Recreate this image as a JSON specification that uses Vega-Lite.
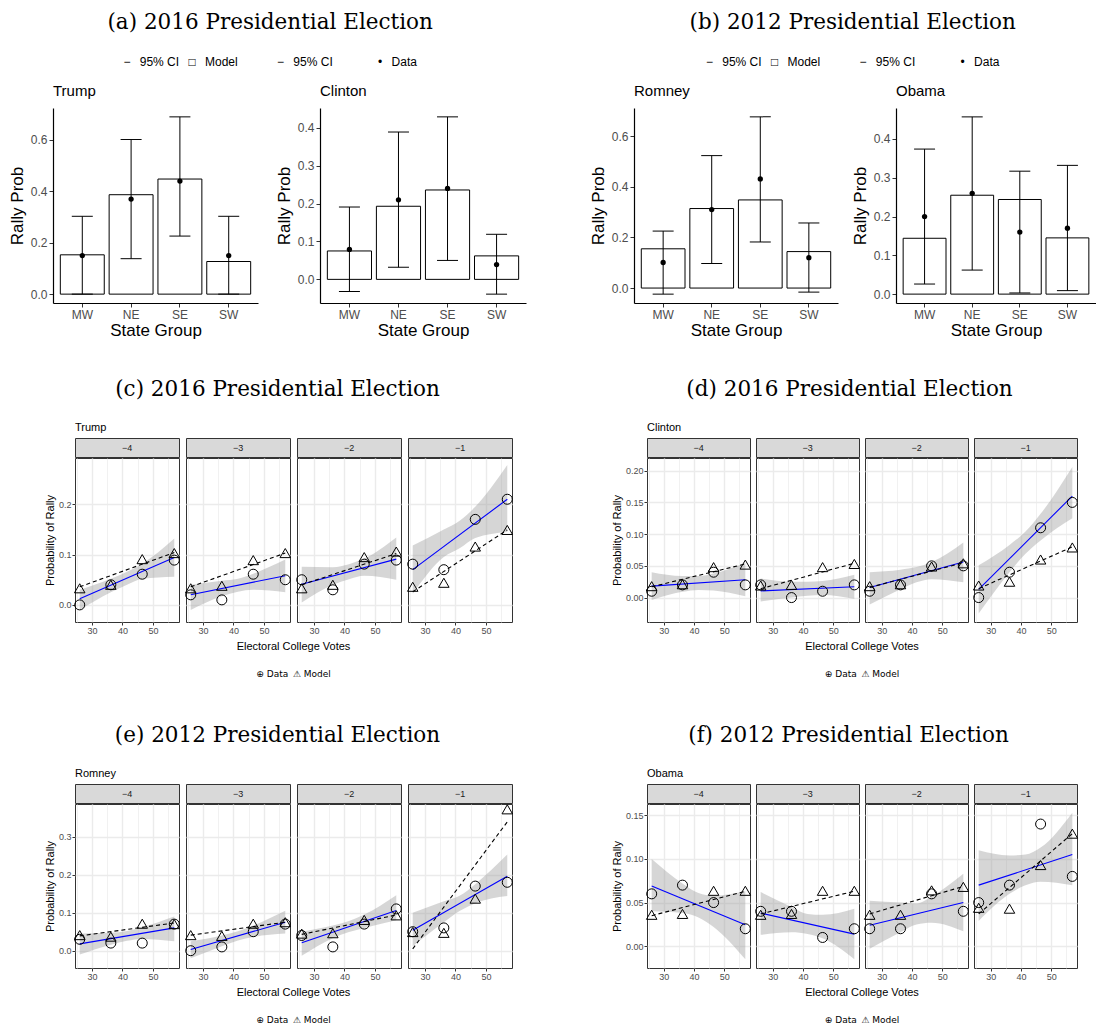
{
"$schema":"https://vega.github.io/schema/vega-lite/v6.json",
"background":"white",
"padding":{"left":8,"top":11,"right":0,"bottom":0},
"config":{
 "font":"Liberation Sans",
 "view":{"stroke":null},
 "axis":{"labelFont":"Liberation Sans","titleFont":"Liberation Sans","labelColor":"#4D4D4D","titleColor":"#000000","titleFontWeight":"normal","tickColor":"#333333","domainColor":"#000000","grid":false},
 "title":{"font":"Liberation Sans","fontWeight":"normal","color":"#000000","subtitleColor":"#000000","subtitleFont":"Liberation Sans"}
},
"datasets":{
 "bars":[
  {"c":"Trump","grp":"MW","model":0.153,"lo":0.0,"hi":0.303,"data":0.15},
  {"c":"Trump","grp":"NE","model":0.387,"lo":0.138,"hi":0.602,"data":0.37},
  {"c":"Trump","grp":"SE","model":0.448,"lo":0.226,"hi":0.69,"data":0.44},
  {"c":"Trump","grp":"SW","model":0.127,"lo":0.0,"hi":0.303,"data":0.15},
  {"c":"Clinton","grp":"MW","model":0.075,"lo":-0.032,"hi":0.191,"data":0.079},
  {"c":"Clinton","grp":"NE","model":0.193,"lo":0.032,"hi":0.389,"data":0.21},
  {"c":"Clinton","grp":"SE","model":0.236,"lo":0.05,"hi":0.429,"data":0.24},
  {"c":"Clinton","grp":"SW","model":0.062,"lo":-0.039,"hi":0.119,"data":0.039},
  {"c":"Romney","grp":"MW","model":0.155,"lo":-0.024,"hi":0.225,"data":0.101},
  {"c":"Romney","grp":"NE","model":0.314,"lo":0.097,"hi":0.523,"data":0.31},
  {"c":"Romney","grp":"SE","model":0.348,"lo":0.182,"hi":0.676,"data":0.431},
  {"c":"Romney","grp":"SW","model":0.144,"lo":-0.016,"hi":0.257,"data":0.12},
  {"c":"Obama","grp":"MW","model":0.144,"lo":0.026,"hi":0.374,"data":0.2},
  {"c":"Obama","grp":"NE","model":0.255,"lo":0.062,"hi":0.457,"data":0.26},
  {"c":"Obama","grp":"SE","model":0.244,"lo":0.003,"hi":0.317,"data":0.16},
  {"c":"Obama","grp":"SW","model":0.145,"lo":0.009,"hi":0.332,"data":0.17}
 ],
 "pts":[
  {"c":"Trump","lag":-4,"ev":26,"d":0.0,"m":0.033},{"c":"Trump","lag":-4,"ev":36.2,"d":0.04,"m":0.04},{"c":"Trump","lag":-4,"ev":46.5,"d":0.061,"m":0.091},{"c":"Trump","lag":-4,"ev":57,"d":0.089,"m":0.103},
  {"c":"Trump","lag":-3,"ev":26,"d":0.02,"m":0.033},{"c":"Trump","lag":-3,"ev":36.2,"d":0.01,"m":0.038},{"c":"Trump","lag":-3,"ev":46.5,"d":0.061,"m":0.089},{"c":"Trump","lag":-3,"ev":57,"d":0.05,"m":0.103},
  {"c":"Trump","lag":-2,"ev":26,"d":0.05,"m":0.033},{"c":"Trump","lag":-2,"ev":36.2,"d":0.03,"m":0.04},{"c":"Trump","lag":-2,"ev":46.5,"d":0.081,"m":0.095},{"c":"Trump","lag":-2,"ev":57,"d":0.089,"m":0.106},
  {"c":"Trump","lag":-1,"ev":26,"d":0.081,"m":0.036},{"c":"Trump","lag":-1,"ev":36.2,"d":0.07,"m":0.044},{"c":"Trump","lag":-1,"ev":46.5,"d":0.17,"m":0.116},{"c":"Trump","lag":-1,"ev":57,"d":0.21,"m":0.149},
  {"c":"Clinton","lag":-4,"ev":26,"d":0.01,"m":0.018},{"c":"Clinton","lag":-4,"ev":36.2,"d":0.02,"m":0.021},{"c":"Clinton","lag":-4,"ev":46.5,"d":0.04,"m":0.048},{"c":"Clinton","lag":-4,"ev":57,"d":0.02,"m":0.052},
  {"c":"Clinton","lag":-3,"ev":26,"d":0.02,"m":0.019},{"c":"Clinton","lag":-3,"ev":36.2,"d":0.0,"m":0.02},{"c":"Clinton","lag":-3,"ev":46.5,"d":0.01,"m":0.048},{"c":"Clinton","lag":-3,"ev":57,"d":0.02,"m":0.053},
  {"c":"Clinton","lag":-2,"ev":26,"d":0.01,"m":0.018},{"c":"Clinton","lag":-2,"ev":36.2,"d":0.02,"m":0.021},{"c":"Clinton","lag":-2,"ev":46.5,"d":0.05,"m":0.049},{"c":"Clinton","lag":-2,"ev":57,"d":0.05,"m":0.054},
  {"c":"Clinton","lag":-1,"ev":26,"d":0.0,"m":0.019},{"c":"Clinton","lag":-1,"ev":36.2,"d":0.04,"m":0.025},{"c":"Clinton","lag":-1,"ev":46.5,"d":0.11,"m":0.06},{"c":"Clinton","lag":-1,"ev":57,"d":0.15,"m":0.079},
  {"c":"Romney","lag":-4,"ev":26,"d":0.03,"m":0.041},{"c":"Romney","lag":-4,"ev":36.2,"d":0.02,"m":0.037},{"c":"Romney","lag":-4,"ev":46.5,"d":0.02,"m":0.071},{"c":"Romney","lag":-4,"ev":57,"d":0.07,"m":0.07},
  {"c":"Romney","lag":-3,"ev":26,"d":0.0,"m":0.041},{"c":"Romney","lag":-3,"ev":36.2,"d":0.01,"m":0.039},{"c":"Romney","lag":-3,"ev":46.5,"d":0.05,"m":0.071},{"c":"Romney","lag":-3,"ev":57,"d":0.07,"m":0.075},
  {"c":"Romney","lag":-2,"ev":26,"d":0.04,"m":0.045},{"c":"Romney","lag":-2,"ev":36.2,"d":0.01,"m":0.046},{"c":"Romney","lag":-2,"ev":46.5,"d":0.07,"m":0.081},{"c":"Romney","lag":-2,"ev":57,"d":0.11,"m":0.093},
  {"c":"Romney","lag":-1,"ev":26,"d":0.05,"m":0.049},{"c":"Romney","lag":-1,"ev":36.2,"d":0.06,"m":0.047},{"c":"Romney","lag":-1,"ev":46.5,"d":0.17,"m":0.137},{"c":"Romney","lag":-1,"ev":57,"d":0.18,"m":0.372},
  {"c":"Obama","lag":-4,"ev":26,"d":0.06,"m":0.036},{"c":"Obama","lag":-4,"ev":36.2,"d":0.07,"m":0.037},{"c":"Obama","lag":-4,"ev":46.5,"d":0.05,"m":0.0635},{"c":"Obama","lag":-4,"ev":57,"d":0.02,"m":0.0635},
  {"c":"Obama","lag":-3,"ev":26,"d":0.04,"m":0.036},{"c":"Obama","lag":-3,"ev":36.2,"d":0.04,"m":0.037},{"c":"Obama","lag":-3,"ev":46.5,"d":0.01,"m":0.0635},{"c":"Obama","lag":-3,"ev":57,"d":0.02,"m":0.0635},
  {"c":"Obama","lag":-2,"ev":26,"d":0.02,"m":0.036},{"c":"Obama","lag":-2,"ev":36.2,"d":0.02,"m":0.036},{"c":"Obama","lag":-2,"ev":46.5,"d":0.06,"m":0.064},{"c":"Obama","lag":-2,"ev":57,"d":0.04,"m":0.068},
  {"c":"Obama","lag":-1,"ev":26,"d":0.05,"m":0.044},{"c":"Obama","lag":-1,"ev":36.2,"d":0.07,"m":0.043},{"c":"Obama","lag":-1,"ev":46.5,"d":0.14,"m":0.093},{"c":"Obama","lag":-1,"ev":57,"d":0.08,"m":0.129}
 ],
 "fit":[
  {"c":"Trump","lag":-4,"ev":26,"d":0.012,"m":0.036},{"c":"Trump","lag":-4,"ev":57,"d":0.094,"m":0.104},
  {"c":"Trump","lag":-3,"ev":26,"d":0.02,"m":0.036},{"c":"Trump","lag":-3,"ev":57,"d":0.058,"m":0.103},
  {"c":"Trump","lag":-2,"ev":26,"d":0.041,"m":0.04},{"c":"Trump","lag":-2,"ev":57,"d":0.091,"m":0.102},
  {"c":"Trump","lag":-1,"ev":26,"d":0.07,"m":0.026},{"c":"Trump","lag":-1,"ev":57,"d":0.21,"m":0.149},
  {"c":"Clinton","lag":-4,"ev":26,"d":0.018,"m":0.017},{"c":"Clinton","lag":-4,"ev":57,"d":0.028,"m":0.053},
  {"c":"Clinton","lag":-3,"ev":26,"d":0.0105,"m":0.014},{"c":"Clinton","lag":-3,"ev":57,"d":0.017,"m":0.054},
  {"c":"Clinton","lag":-2,"ev":26,"d":0.016,"m":0.016},{"c":"Clinton","lag":-2,"ev":57,"d":0.056,"m":0.055},
  {"c":"Clinton","lag":-1,"ev":26,"d":0.013,"m":0.014},{"c":"Clinton","lag":-1,"ev":57,"d":0.16,"m":0.08},
  {"c":"Romney","lag":-4,"ev":26,"d":0.018,"m":0.039},{"c":"Romney","lag":-4,"ev":57,"d":0.06,"m":0.073},
  {"c":"Romney","lag":-3,"ev":26,"d":0.003,"m":0.041},{"c":"Romney","lag":-3,"ev":57,"d":0.075,"m":0.075},
  {"c":"Romney","lag":-2,"ev":26,"d":0.021,"m":0.043},{"c":"Romney","lag":-2,"ev":57,"d":0.106,"m":0.094},
  {"c":"Romney","lag":-1,"ev":26,"d":0.054,"m":0.005},{"c":"Romney","lag":-1,"ev":57,"d":0.196,"m":0.339},
  {"c":"Obama","lag":-4,"ev":26,"d":0.069,"m":0.035},{"c":"Obama","lag":-4,"ev":57,"d":0.0245,"m":0.063},
  {"c":"Obama","lag":-3,"ev":26,"d":0.038,"m":0.037},{"c":"Obama","lag":-3,"ev":57,"d":0.0138,"m":0.063},
  {"c":"Obama","lag":-2,"ev":26,"d":0.024,"m":0.037},{"c":"Obama","lag":-2,"ev":57,"d":0.05,"m":0.0685},
  {"c":"Obama","lag":-1,"ev":26,"d":0.07,"m":0.037},{"c":"Obama","lag":-1,"ev":57,"d":0.105,"m":0.129}
 ],
 "band":[
  {"c":"Trump","lag":-4,"ev":26,"lo":-0.01,"hi":0.03},{"c":"Trump","lag":-4,"ev":36.2,"lo":0.025,"hi":0.052},{"c":"Trump","lag":-4,"ev":41.5,"lo":0.04,"hi":0.066},{"c":"Trump","lag":-4,"ev":46.5,"lo":0.052,"hi":0.082},{"c":"Trump","lag":-4,"ev":57,"lo":0.056,"hi":0.132},
  {"c":"Trump","lag":-3,"ev":26,"lo":-0.01,"hi":0.04},{"c":"Trump","lag":-3,"ev":36.2,"lo":0.017,"hi":0.048},{"c":"Trump","lag":-3,"ev":41.5,"lo":0.026,"hi":0.052},{"c":"Trump","lag":-3,"ev":46.5,"lo":0.03,"hi":0.062},{"c":"Trump","lag":-3,"ev":57,"lo":0.025,"hi":0.09},
  {"c":"Trump","lag":-2,"ev":26,"lo":0.005,"hi":0.076},{"c":"Trump","lag":-2,"ev":36.2,"lo":0.04,"hi":0.075},{"c":"Trump","lag":-2,"ev":41.5,"lo":0.051,"hi":0.081},{"c":"Trump","lag":-2,"ev":46.5,"lo":0.058,"hi":0.092},{"c":"Trump","lag":-2,"ev":57,"lo":0.05,"hi":0.134},
  {"c":"Trump","lag":-1,"ev":26,"lo":0.022,"hi":0.118},{"c":"Trump","lag":-1,"ev":36.2,"lo":0.095,"hi":0.15},{"c":"Trump","lag":-1,"ev":41.5,"lo":0.113,"hi":0.168},{"c":"Trump","lag":-1,"ev":46.5,"lo":0.133,"hi":0.195},{"c":"Trump","lag":-1,"ev":57,"lo":0.145,"hi":0.278},
  {"c":"Clinton","lag":-4,"ev":26,"lo":-0.004,"hi":0.04},{"c":"Clinton","lag":-4,"ev":36.2,"lo":0.009,"hi":0.034},{"c":"Clinton","lag":-4,"ev":41.5,"lo":0.012,"hi":0.034},{"c":"Clinton","lag":-4,"ev":46.5,"lo":0.011,"hi":0.038},{"c":"Clinton","lag":-4,"ev":57,"lo":0.002,"hi":0.055},
  {"c":"Clinton","lag":-3,"ev":26,"lo":-0.006,"hi":0.03},{"c":"Clinton","lag":-3,"ev":36.2,"lo":0.0,"hi":0.025},{"c":"Clinton","lag":-3,"ev":41.5,"lo":0.003,"hi":0.025},{"c":"Clinton","lag":-3,"ev":46.5,"lo":0.004,"hi":0.026},{"c":"Clinton","lag":-3,"ev":57,"lo":-0.002,"hi":0.036},
  {"c":"Clinton","lag":-2,"ev":26,"lo":-0.011,"hi":0.04},{"c":"Clinton","lag":-2,"ev":36.2,"lo":0.013,"hi":0.044},{"c":"Clinton","lag":-2,"ev":41.5,"lo":0.024,"hi":0.048},{"c":"Clinton","lag":-2,"ev":46.5,"lo":0.029,"hi":0.056},{"c":"Clinton","lag":-2,"ev":57,"lo":0.024,"hi":0.087},
  {"c":"Clinton","lag":-1,"ev":26,"lo":-0.025,"hi":0.051},{"c":"Clinton","lag":-1,"ev":36.2,"lo":0.04,"hi":0.083},{"c":"Clinton","lag":-1,"ev":41.5,"lo":0.069,"hi":0.104},{"c":"Clinton","lag":-1,"ev":46.5,"lo":0.09,"hi":0.132},{"c":"Clinton","lag":-1,"ev":57,"lo":0.125,"hi":0.206},
  {"c":"Romney","lag":-4,"ev":26,"lo":-0.01,"hi":0.045},{"c":"Romney","lag":-4,"ev":36.2,"lo":0.016,"hi":0.047},{"c":"Romney","lag":-4,"ev":41.5,"lo":0.026,"hi":0.052},{"c":"Romney","lag":-4,"ev":46.5,"lo":0.031,"hi":0.062},{"c":"Romney","lag":-4,"ev":57,"lo":0.025,"hi":0.09},
  {"c":"Romney","lag":-3,"ev":26,"lo":-0.02,"hi":0.025},{"c":"Romney","lag":-3,"ev":36.2,"lo":0.012,"hi":0.04},{"c":"Romney","lag":-3,"ev":41.5,"lo":0.027,"hi":0.051},{"c":"Romney","lag":-3,"ev":46.5,"lo":0.036,"hi":0.066},{"c":"Romney","lag":-3,"ev":57,"lo":0.045,"hi":0.105},
  {"c":"Romney","lag":-2,"ev":26,"lo":-0.013,"hi":0.05},{"c":"Romney","lag":-2,"ev":36.2,"lo":0.033,"hi":0.066},{"c":"Romney","lag":-2,"ev":41.5,"lo":0.049,"hi":0.078},{"c":"Romney","lag":-2,"ev":46.5,"lo":0.06,"hi":0.095},{"c":"Romney","lag":-2,"ev":57,"lo":0.08,"hi":0.146},
  {"c":"Romney","lag":-1,"ev":26,"lo":0.012,"hi":0.1},{"c":"Romney","lag":-1,"ev":36.2,"lo":0.075,"hi":0.13},{"c":"Romney","lag":-1,"ev":41.5,"lo":0.105,"hi":0.145},{"c":"Romney","lag":-1,"ev":46.5,"lo":0.125,"hi":0.175},{"c":"Romney","lag":-1,"ev":57,"lo":0.144,"hi":0.253},
  {"c":"Obama","lag":-4,"ev":26,"lo":0.04,"hi":0.1},{"c":"Obama","lag":-4,"ev":36.2,"lo":0.038,"hi":0.072},{"c":"Obama","lag":-4,"ev":41.5,"lo":0.033,"hi":0.061},{"c":"Obama","lag":-4,"ev":46.5,"lo":0.022,"hi":0.058},{"c":"Obama","lag":-4,"ev":57,"lo":-0.015,"hi":0.063},
  {"c":"Obama","lag":-3,"ev":26,"lo":0.013,"hi":0.062},{"c":"Obama","lag":-3,"ev":36.2,"lo":0.016,"hi":0.045},{"c":"Obama","lag":-3,"ev":41.5,"lo":0.014,"hi":0.037},{"c":"Obama","lag":-3,"ev":46.5,"lo":0.009,"hi":0.036},{"c":"Obama","lag":-3,"ev":57,"lo":-0.015,"hi":0.043},
  {"c":"Obama","lag":-2,"ev":26,"lo":-0.003,"hi":0.052},{"c":"Obama","lag":-2,"ev":36.2,"lo":0.016,"hi":0.05},{"c":"Obama","lag":-2,"ev":41.5,"lo":0.025,"hi":0.049},{"c":"Obama","lag":-2,"ev":46.5,"lo":0.027,"hi":0.057},{"c":"Obama","lag":-2,"ev":57,"lo":0.017,"hi":0.083},
  {"c":"Obama","lag":-1,"ev":26,"lo":0.029,"hi":0.11},{"c":"Obama","lag":-1,"ev":36.2,"lo":0.06,"hi":0.104},{"c":"Obama","lag":-1,"ev":41.5,"lo":0.07,"hi":0.105},{"c":"Obama","lag":-1,"ev":46.5,"lo":0.074,"hi":0.113},{"c":"Obama","lag":-1,"ev":57,"lo":0.07,"hi":0.153}
 ]
},
"vconcat":[
 {"hconcat":[
  {"title":{"text":"(a) 2016 Presidential Election","subtitle":"−\u2002 95% CI\u2002 □\u2002 Model\u2003\u2003\u2003 −\u2002 95% CI\u2003\u2003\u2003\u2002 •\u2002 Data","font":"DejaVu Serif","fontSize":21.5,"subtitleFontSize":12,"subtitlePadding":24,"anchor":"middle","offset":16,"dx":3},
   "hconcat":[
    {"title":{"text":"Trump","anchor":"start","frame":"group","fontSize":15,"offset":9},"width":205,"height":195,"data":{"name":"bars"},"transform":[{"filter":"datum.c=='Trump'"}],
     "encoding":{"x":{"field":"grp","type":"nominal","scale":{"paddingInner":0.1,"paddingOuter":0.15},"axis":{"title":"State Group","labelAngle":0,"labelFontSize":12,"titleFontSize":17,"labelPadding":2,"titlePadding":2,"tickSize":4,"domainWidth":1.2}}},
     "layer":[
      {"mark":{"type":"bar","fill":"white","stroke":"black","strokeWidth":1},"encoding":{"y":{"field":"model","type":"quantitative","scale":{"domain":[-0.0345,0.7245],"nice":false,"zero":false},"axis":{"title":"Rally Prob","values":[0,0.2,0.4,0.6],"format":".1f","labelFontSize":12,"titleFontSize":17,"labelPadding":2,"titlePadding":4,"tickSize":4,"domainWidth":1.2}},"y2":{"datum":0}}},
      {"mark":{"type":"rule","color":"black","strokeWidth":1},"encoding":{"y":{"field":"lo","type":"quantitative"},"y2":{"field":"hi"}}},
      {"mark":{"type":"tick","color":"black","size":21,"thickness":1,"opacity":1},"encoding":{"y":{"field":"lo","type":"quantitative"}}},
      {"mark":{"type":"tick","color":"black","size":21,"thickness":1,"opacity":1},"encoding":{"y":{"field":"hi","type":"quantitative"}}},
      {"mark":{"type":"circle","color":"black","size":28,"opacity":1},"encoding":{"y":{"field":"data","type":"quantitative"}}}
     ]},
    {"title":{"text":"Clinton","anchor":"start","frame":"group","fontSize":15,"offset":9},"width":206,"height":195,"data":{"name":"bars"},"transform":[{"filter":"datum.c=='Clinton'"}],
     "encoding":{"x":{"field":"grp","type":"nominal","scale":{"paddingInner":0.1,"paddingOuter":0.15},"axis":{"title":"State Group","labelAngle":0,"labelFontSize":12,"titleFontSize":17,"labelPadding":2,"titlePadding":2,"tickSize":4,"domainWidth":1.2}}},
     "layer":[
      {"mark":{"type":"bar","fill":"white","stroke":"black","strokeWidth":1},"encoding":{"y":{"field":"model","type":"quantitative","scale":{"domain":[-0.0624,0.4524],"nice":false,"zero":false},"axis":{"title":"Rally Prob","values":[0,0.1,0.2,0.3,0.4],"format":".1f","labelFontSize":12,"titleFontSize":17,"labelPadding":2,"titlePadding":4,"tickSize":4,"domainWidth":1.2}},"y2":{"datum":0}}},
      {"mark":{"type":"rule","color":"black","strokeWidth":1},"encoding":{"y":{"field":"lo","type":"quantitative"},"y2":{"field":"hi"}}},
      {"mark":{"type":"tick","color":"black","size":21,"thickness":1,"opacity":1},"encoding":{"y":{"field":"lo","type":"quantitative"}}},
      {"mark":{"type":"tick","color":"black","size":21,"thickness":1,"opacity":1},"encoding":{"y":{"field":"hi","type":"quantitative"}}},
      {"mark":{"type":"circle","color":"black","size":28,"opacity":1},"encoding":{"y":{"field":"data","type":"quantitative"}}}
     ]}
   ],"spacing":17},
  {"title":{"text":"(b) 2012 Presidential Election","subtitle":"−\u2002 95% CI\u2002 □\u2002 Model\u2003\u2003\u2003 −\u2002 95% CI\u2003\u2003\u2003\u2002 •\u2002 Data","font":"DejaVu Serif","fontSize":21.5,"subtitleFontSize":12,"subtitlePadding":24,"anchor":"middle","offset":16,"dx":10},
   "hconcat":[
    {"title":{"text":"Romney","anchor":"start","frame":"group","fontSize":15,"offset":9},"width":204,"height":195,"data":{"name":"bars"},"transform":[{"filter":"datum.c=='Romney'"}],
     "encoding":{"x":{"field":"grp","type":"nominal","scale":{"paddingInner":0.1,"paddingOuter":0.15},"axis":{"title":"State Group","labelAngle":0,"labelFontSize":12,"titleFontSize":17,"labelPadding":2,"titlePadding":2,"tickSize":4,"domainWidth":1.2}}},
     "layer":[
      {"mark":{"type":"bar","fill":"white","stroke":"black","strokeWidth":1},"encoding":{"y":{"field":"model","type":"quantitative","scale":{"domain":[-0.059,0.711],"nice":false,"zero":false},"axis":{"title":"Rally Prob","values":[0,0.2,0.4,0.6],"format":".1f","labelFontSize":12,"titleFontSize":17,"labelPadding":2,"titlePadding":4,"tickSize":4,"domainWidth":1.2}},"y2":{"datum":0}}},
      {"mark":{"type":"rule","color":"black","strokeWidth":1},"encoding":{"y":{"field":"lo","type":"quantitative"},"y2":{"field":"hi"}}},
      {"mark":{"type":"tick","color":"black","size":21,"thickness":1,"opacity":1},"encoding":{"y":{"field":"lo","type":"quantitative"}}},
      {"mark":{"type":"tick","color":"black","size":21,"thickness":1,"opacity":1},"encoding":{"y":{"field":"hi","type":"quantitative"}}},
      {"mark":{"type":"circle","color":"black","size":28,"opacity":1},"encoding":{"y":{"field":"data","type":"quantitative"}}}
     ]},
    {"title":{"text":"Obama","anchor":"start","frame":"group","fontSize":15,"offset":9},"width":200,"height":195,"data":{"name":"bars"},"transform":[{"filter":"datum.c=='Obama'"}],
     "encoding":{"x":{"field":"grp","type":"nominal","scale":{"paddingInner":0.1,"paddingOuter":0.15},"axis":{"title":"State Group","labelAngle":0,"labelFontSize":12,"titleFontSize":17,"labelPadding":2,"titlePadding":2,"tickSize":4,"domainWidth":1.2}}},
     "layer":[
      {"mark":{"type":"bar","fill":"white","stroke":"black","strokeWidth":1},"encoding":{"y":{"field":"model","type":"quantitative","scale":{"domain":[-0.0229,0.4799],"nice":false,"zero":false},"axis":{"title":"Rally Prob","values":[0,0.1,0.2,0.3,0.4],"format":".1f","labelFontSize":12,"titleFontSize":17,"labelPadding":2,"titlePadding":4,"tickSize":4,"domainWidth":1.2}},"y2":{"datum":0}}},
      {"mark":{"type":"rule","color":"black","strokeWidth":1},"encoding":{"y":{"field":"lo","type":"quantitative"},"y2":{"field":"hi"}}},
      {"mark":{"type":"tick","color":"black","size":21,"thickness":1,"opacity":1},"encoding":{"y":{"field":"lo","type":"quantitative"}}},
      {"mark":{"type":"tick","color":"black","size":21,"thickness":1,"opacity":1},"encoding":{"y":{"field":"hi","type":"quantitative"}}},
      {"mark":{"type":"circle","color":"black","size":28,"opacity":1},"encoding":{"y":{"field":"data","type":"quantitative"}}}
     ]}
   ],"spacing":13}
 ],"spacing":63},
 {"vconcat":[
  {"hconcat":[
   {"width":1,"height":1,"data":{"values":[{}]},"mark":{"type":"text","text":""}},
   {"hconcat":[
    {"title":{"text":"(c) 2016 Presidential Election","font":"DejaVu Serif","fontSize":21.5,"anchor":"middle","offset":21,"dx":-2},
     "vconcat":[
      {"title":{"text":"Trump","anchor":"start","frame":"group","fontSize":11,"offset":5},
       "vconcat":[
        {"hconcat":[
          {"width":104,"height":19,"view":{"fill":"#D9D9D9","stroke":"#333333"},"data":{"values":[{"s":"−4"}]},"mark":{"type":"text","fontSize":9,"color":"#1A1A1A"},"encoding":{"text":{"field":"s"}}},
          {"width":104,"height":19,"view":{"fill":"#D9D9D9","stroke":"#333333"},"data":{"values":[{"s":"−3"}]},"mark":{"type":"text","fontSize":9,"color":"#1A1A1A"},"encoding":{"text":{"field":"s"}}},
          {"width":104,"height":19,"view":{"fill":"#D9D9D9","stroke":"#333333"},"data":{"values":[{"s":"−2"}]},"mark":{"type":"text","fontSize":9,"color":"#1A1A1A"},"encoding":{"text":{"field":"s"}}},
          {"width":104,"height":19,"view":{"fill":"#D9D9D9","stroke":"#333333"},"data":{"values":[{"s":"−1"}]},"mark":{"type":"text","fontSize":9,"color":"#1A1A1A"},"encoding":{"text":{"field":"s"}}}
         ],"spacing":7,"bounds":"flush"},
        {"hconcat":[
          {"width":104,"height":164,"view":{"stroke":"#333333","fill":"white"},
           "encoding":{"x":{"field":"ev","type":"quantitative","scale":{"domain":[24.45,58.55],"nice":false,"zero":false},"axis":{"values":[25,30,35,40,45,50,55],"labelExpr":"datum.value % 10 == 0 ? datum.label : ''","title":null,"domain":false,"labelFontSize":9,"labelPadding":1,"tickSize":3,"tickOpacity":{"condition":{"test":"datum.value % 10 == 0","value":1},"value":0},"grid":true,"gridColor":"#EBEBEB","gridWidth":{"condition":{"test":"datum.value % 10 == 0","value":1.4},"value":0.7}}}},
           "layer":[
            {"data":{"name":"band"},"transform":[{"filter":"datum.c=='Trump'&&datum.lag==-4"}],"mark":{"type":"area","color":"#999999","opacity":0.4,"interpolate":"monotone"},"encoding":{"y":{"field":"lo","type":"quantitative","scale":{"domain":[-0.034,0.292],"nice":false,"zero":false},"axis":{"values":[0,0.05,0.1,0.15,0.2,0.25],"labelExpr":"abs(datum.value*10-round(datum.value*10))<0.001 ? datum.label : ''","labelOverlap":false,"format":".1f","title":"Probability of Rally","titleFontSize":11,"labelFontSize":9,"domain":false,"tickSize":3,"tickOpacity":{"condition":{"test":"abs(datum.value*10-round(datum.value*10))<0.001","value":1},"value":0},"labelPadding":1,"titlePadding":3,"grid":true,"gridColor":"#EBEBEB","gridWidth":{"condition":{"test":"abs(datum.value*10-round(datum.value*10))<0.001","value":1.4},"value":0.7}}},"y2":{"field":"hi"}}},
            {"data":{"name":"fit"},"transform":[{"filter":"datum.c=='Trump'&&datum.lag==-4"}],"mark":{"type":"line","color":"#0000FF","strokeWidth":1.1},"encoding":{"y":{"field":"d","type":"quantitative"}}},
            {"data":{"name":"fit"},"transform":[{"filter":"datum.c=='Trump'&&datum.lag==-4"}],"mark":{"type":"line","color":"black","strokeWidth":1.1,"strokeDash":[4,3]},"encoding":{"y":{"field":"m","type":"quantitative"}}},
            {"data":{"name":"pts"},"transform":[{"filter":"datum.c=='Trump'&&datum.lag==-4"}],"mark":{"type":"point","shape":"circle","filled":false,"color":"black","strokeWidth":1,"size":100,"opacity":1},"encoding":{"y":{"field":"d","type":"quantitative"}}},
            {"data":{"name":"pts"},"transform":[{"filter":"datum.c=='Trump'&&datum.lag==-4"}],"mark":{"type":"point","shape":"triangle-up","filled":false,"color":"black","strokeWidth":1,"size":110,"opacity":1},"encoding":{"y":{"field":"m","type":"quantitative"}}}
           ]},
          {"width":104,"height":164,"view":{"stroke":"#333333","fill":"white"},
           "encoding":{"x":{"field":"ev","type":"quantitative","scale":{"domain":[24.45,58.55],"nice":false,"zero":false},"axis":{"values":[25,30,35,40,45,50,55],"labelExpr":"datum.value % 10 == 0 ? datum.label : ''","title":null,"domain":false,"labelFontSize":9,"labelPadding":1,"tickSize":3,"tickOpacity":{"condition":{"test":"datum.value % 10 == 0","value":1},"value":0},"grid":true,"gridColor":"#EBEBEB","gridWidth":{"condition":{"test":"datum.value % 10 == 0","value":1.4},"value":0.7}}}},
           "layer":[
            {"data":{"name":"band"},"transform":[{"filter":"datum.c=='Trump'&&datum.lag==-3"}],"mark":{"type":"area","color":"#999999","opacity":0.4,"interpolate":"monotone"},"encoding":{"y":{"field":"lo","type":"quantitative","scale":{"domain":[-0.034,0.292],"nice":false,"zero":false},"axis":{"values":[0,0.05,0.1,0.15,0.2,0.25],"labels":false,"ticks":false,"domain":false,"title":null,"grid":true,"gridColor":"#EBEBEB","gridWidth":{"condition":{"test":"abs(datum.value*10-round(datum.value*10))<0.001","value":1.4},"value":0.7}}},"y2":{"field":"hi"}}},
            {"data":{"name":"fit"},"transform":[{"filter":"datum.c=='Trump'&&datum.lag==-3"}],"mark":{"type":"line","color":"#0000FF","strokeWidth":1.1},"encoding":{"y":{"field":"d","type":"quantitative"}}},
            {"data":{"name":"fit"},"transform":[{"filter":"datum.c=='Trump'&&datum.lag==-3"}],"mark":{"type":"line","color":"black","strokeWidth":1.1,"strokeDash":[4,3]},"encoding":{"y":{"field":"m","type":"quantitative"}}},
            {"data":{"name":"pts"},"transform":[{"filter":"datum.c=='Trump'&&datum.lag==-3"}],"mark":{"type":"point","shape":"circle","filled":false,"color":"black","strokeWidth":1,"size":100,"opacity":1},"encoding":{"y":{"field":"d","type":"quantitative"}}},
            {"data":{"name":"pts"},"transform":[{"filter":"datum.c=='Trump'&&datum.lag==-3"}],"mark":{"type":"point","shape":"triangle-up","filled":false,"color":"black","strokeWidth":1,"size":110,"opacity":1},"encoding":{"y":{"field":"m","type":"quantitative"}}}
           ]},
          {"width":104,"height":164,"view":{"stroke":"#333333","fill":"white"},
           "encoding":{"x":{"field":"ev","type":"quantitative","scale":{"domain":[24.45,58.55],"nice":false,"zero":false},"axis":{"values":[25,30,35,40,45,50,55],"labelExpr":"datum.value % 10 == 0 ? datum.label : ''","title":null,"domain":false,"labelFontSize":9,"labelPadding":1,"tickSize":3,"tickOpacity":{"condition":{"test":"datum.value % 10 == 0","value":1},"value":0},"grid":true,"gridColor":"#EBEBEB","gridWidth":{"condition":{"test":"datum.value % 10 == 0","value":1.4},"value":0.7}}}},
           "layer":[
            {"data":{"name":"band"},"transform":[{"filter":"datum.c=='Trump'&&datum.lag==-2"}],"mark":{"type":"area","color":"#999999","opacity":0.4,"interpolate":"monotone"},"encoding":{"y":{"field":"lo","type":"quantitative","scale":{"domain":[-0.034,0.292],"nice":false,"zero":false},"axis":{"values":[0,0.05,0.1,0.15,0.2,0.25],"labels":false,"ticks":false,"domain":false,"title":null,"grid":true,"gridColor":"#EBEBEB","gridWidth":{"condition":{"test":"abs(datum.value*10-round(datum.value*10))<0.001","value":1.4},"value":0.7}}},"y2":{"field":"hi"}}},
            {"data":{"name":"fit"},"transform":[{"filter":"datum.c=='Trump'&&datum.lag==-2"}],"mark":{"type":"line","color":"#0000FF","strokeWidth":1.1},"encoding":{"y":{"field":"d","type":"quantitative"}}},
            {"data":{"name":"fit"},"transform":[{"filter":"datum.c=='Trump'&&datum.lag==-2"}],"mark":{"type":"line","color":"black","strokeWidth":1.1,"strokeDash":[4,3]},"encoding":{"y":{"field":"m","type":"quantitative"}}},
            {"data":{"name":"pts"},"transform":[{"filter":"datum.c=='Trump'&&datum.lag==-2"}],"mark":{"type":"point","shape":"circle","filled":false,"color":"black","strokeWidth":1,"size":100,"opacity":1},"encoding":{"y":{"field":"d","type":"quantitative"}}},
            {"data":{"name":"pts"},"transform":[{"filter":"datum.c=='Trump'&&datum.lag==-2"}],"mark":{"type":"point","shape":"triangle-up","filled":false,"color":"black","strokeWidth":1,"size":110,"opacity":1},"encoding":{"y":{"field":"m","type":"quantitative"}}}
           ]},
          {"width":104,"height":164,"view":{"stroke":"#333333","fill":"white"},
           "encoding":{"x":{"field":"ev","type":"quantitative","scale":{"domain":[24.45,58.55],"nice":false,"zero":false},"axis":{"values":[25,30,35,40,45,50,55],"labelExpr":"datum.value % 10 == 0 ? datum.label : ''","title":null,"domain":false,"labelFontSize":9,"labelPadding":1,"tickSize":3,"tickOpacity":{"condition":{"test":"datum.value % 10 == 0","value":1},"value":0},"grid":true,"gridColor":"#EBEBEB","gridWidth":{"condition":{"test":"datum.value % 10 == 0","value":1.4},"value":0.7}}}},
           "layer":[
            {"data":{"name":"band"},"transform":[{"filter":"datum.c=='Trump'&&datum.lag==-1"}],"mark":{"type":"area","color":"#999999","opacity":0.4,"interpolate":"monotone"},"encoding":{"y":{"field":"lo","type":"quantitative","scale":{"domain":[-0.034,0.292],"nice":false,"zero":false},"axis":{"values":[0,0.05,0.1,0.15,0.2,0.25],"labels":false,"ticks":false,"domain":false,"title":null,"grid":true,"gridColor":"#EBEBEB","gridWidth":{"condition":{"test":"abs(datum.value*10-round(datum.value*10))<0.001","value":1.4},"value":0.7}}},"y2":{"field":"hi"}}},
            {"data":{"name":"fit"},"transform":[{"filter":"datum.c=='Trump'&&datum.lag==-1"}],"mark":{"type":"line","color":"#0000FF","strokeWidth":1.1},"encoding":{"y":{"field":"d","type":"quantitative"}}},
            {"data":{"name":"fit"},"transform":[{"filter":"datum.c=='Trump'&&datum.lag==-1"}],"mark":{"type":"line","color":"black","strokeWidth":1.1,"strokeDash":[4,3]},"encoding":{"y":{"field":"m","type":"quantitative"}}},
            {"data":{"name":"pts"},"transform":[{"filter":"datum.c=='Trump'&&datum.lag==-1"}],"mark":{"type":"point","shape":"circle","filled":false,"color":"black","strokeWidth":1,"size":100,"opacity":1},"encoding":{"y":{"field":"d","type":"quantitative"}}},
            {"data":{"name":"pts"},"transform":[{"filter":"datum.c=='Trump'&&datum.lag==-1"}],"mark":{"type":"point","shape":"triangle-up","filled":false,"color":"black","strokeWidth":1,"size":110,"opacity":1},"encoding":{"y":{"field":"m","type":"quantitative"}}}
           ]}
         ],"spacing":7,"bounds":"flush"}
       ],"spacing":-2},
      {"width":437,"height":44,"title":{"text":"Electoral College Votes","fontSize":11,"anchor":"middle","offset":0},"data":{"values":[{"t":"⊕ Data\u2002⚠ Model"}]},"mark":{"type":"text","fontSize":9,"font":"DejaVu Sans"},"encoding":{"text":{"field":"t"}}}
     ],"spacing":5},
    {"title":{"text":"(d) 2016 Presidential Election","font":"DejaVu Serif","fontSize":21.5,"anchor":"middle","offset":21,"dx":4},
     "vconcat":[
      {"title":{"text":"Clinton","anchor":"start","frame":"group","fontSize":11,"offset":5},
       "vconcat":[
        {"hconcat":[
          {"width":103,"height":19,"view":{"fill":"#D9D9D9","stroke":"#333333"},"data":{"values":[{"s":"−4"}]},"mark":{"type":"text","fontSize":9,"color":"#1A1A1A"},"encoding":{"text":{"field":"s"}}},
          {"width":103,"height":19,"view":{"fill":"#D9D9D9","stroke":"#333333"},"data":{"values":[{"s":"−3"}]},"mark":{"type":"text","fontSize":9,"color":"#1A1A1A"},"encoding":{"text":{"field":"s"}}},
          {"width":103,"height":19,"view":{"fill":"#D9D9D9","stroke":"#333333"},"data":{"values":[{"s":"−2"}]},"mark":{"type":"text","fontSize":9,"color":"#1A1A1A"},"encoding":{"text":{"field":"s"}}},
          {"width":103,"height":19,"view":{"fill":"#D9D9D9","stroke":"#333333"},"data":{"values":[{"s":"−1"}]},"mark":{"type":"text","fontSize":9,"color":"#1A1A1A"},"encoding":{"text":{"field":"s"}}}
         ],"spacing":6,"bounds":"flush"},
        {"hconcat":[
          {"width":103,"height":164,"view":{"stroke":"#333333","fill":"white"},
           "encoding":{"x":{"field":"ev","type":"quantitative","scale":{"domain":[24.45,58.55],"nice":false,"zero":false},"axis":{"values":[25,30,35,40,45,50,55],"labelExpr":"datum.value % 10 == 0 ? datum.label : ''","title":null,"domain":false,"labelFontSize":9,"labelPadding":1,"tickSize":3,"tickOpacity":{"condition":{"test":"datum.value % 10 == 0","value":1},"value":0},"grid":true,"gridColor":"#EBEBEB","gridWidth":{"condition":{"test":"datum.value % 10 == 0","value":1.4},"value":0.7}}}},
           "layer":[
            {"data":{"name":"band"},"transform":[{"filter":"datum.c=='Clinton'&&datum.lag==-4"}],"mark":{"type":"area","color":"#999999","opacity":0.4,"interpolate":"monotone"},"encoding":{"y":{"field":"lo","type":"quantitative","scale":{"domain":[-0.0385,0.22],"nice":false,"zero":false},"axis":{"values":[0,0.025,0.05,0.075,0.1,0.125,0.15,0.175,0.2],"labelExpr":"abs(datum.value*20-round(datum.value*20))<0.001 ? datum.label : ''","labelOverlap":false,"format":".2f","title":"Probability of Rally","titleFontSize":11,"labelFontSize":9,"domain":false,"tickSize":3,"tickOpacity":{"condition":{"test":"abs(datum.value*20-round(datum.value*20))<0.001","value":1},"value":0},"labelPadding":1,"titlePadding":3,"grid":true,"gridColor":"#EBEBEB","gridWidth":{"condition":{"test":"abs(datum.value*20-round(datum.value*20))<0.001","value":1.4},"value":0.7}}},"y2":{"field":"hi"}}},
            {"data":{"name":"fit"},"transform":[{"filter":"datum.c=='Clinton'&&datum.lag==-4"}],"mark":{"type":"line","color":"#0000FF","strokeWidth":1.1},"encoding":{"y":{"field":"d","type":"quantitative"}}},
            {"data":{"name":"fit"},"transform":[{"filter":"datum.c=='Clinton'&&datum.lag==-4"}],"mark":{"type":"line","color":"black","strokeWidth":1.1,"strokeDash":[4,3]},"encoding":{"y":{"field":"m","type":"quantitative"}}},
            {"data":{"name":"pts"},"transform":[{"filter":"datum.c=='Clinton'&&datum.lag==-4"}],"mark":{"type":"point","shape":"circle","filled":false,"color":"black","strokeWidth":1,"size":100,"opacity":1},"encoding":{"y":{"field":"d","type":"quantitative"}}},
            {"data":{"name":"pts"},"transform":[{"filter":"datum.c=='Clinton'&&datum.lag==-4"}],"mark":{"type":"point","shape":"triangle-up","filled":false,"color":"black","strokeWidth":1,"size":110,"opacity":1},"encoding":{"y":{"field":"m","type":"quantitative"}}}
           ]},
          {"width":103,"height":164,"view":{"stroke":"#333333","fill":"white"},
           "encoding":{"x":{"field":"ev","type":"quantitative","scale":{"domain":[24.45,58.55],"nice":false,"zero":false},"axis":{"values":[25,30,35,40,45,50,55],"labelExpr":"datum.value % 10 == 0 ? datum.label : ''","title":null,"domain":false,"labelFontSize":9,"labelPadding":1,"tickSize":3,"tickOpacity":{"condition":{"test":"datum.value % 10 == 0","value":1},"value":0},"grid":true,"gridColor":"#EBEBEB","gridWidth":{"condition":{"test":"datum.value % 10 == 0","value":1.4},"value":0.7}}}},
           "layer":[
            {"data":{"name":"band"},"transform":[{"filter":"datum.c=='Clinton'&&datum.lag==-3"}],"mark":{"type":"area","color":"#999999","opacity":0.4,"interpolate":"monotone"},"encoding":{"y":{"field":"lo","type":"quantitative","scale":{"domain":[-0.0385,0.22],"nice":false,"zero":false},"axis":{"values":[0,0.025,0.05,0.075,0.1,0.125,0.15,0.175,0.2],"labels":false,"ticks":false,"domain":false,"title":null,"grid":true,"gridColor":"#EBEBEB","gridWidth":{"condition":{"test":"abs(datum.value*20-round(datum.value*20))<0.001","value":1.4},"value":0.7}}},"y2":{"field":"hi"}}},
            {"data":{"name":"fit"},"transform":[{"filter":"datum.c=='Clinton'&&datum.lag==-3"}],"mark":{"type":"line","color":"#0000FF","strokeWidth":1.1},"encoding":{"y":{"field":"d","type":"quantitative"}}},
            {"data":{"name":"fit"},"transform":[{"filter":"datum.c=='Clinton'&&datum.lag==-3"}],"mark":{"type":"line","color":"black","strokeWidth":1.1,"strokeDash":[4,3]},"encoding":{"y":{"field":"m","type":"quantitative"}}},
            {"data":{"name":"pts"},"transform":[{"filter":"datum.c=='Clinton'&&datum.lag==-3"}],"mark":{"type":"point","shape":"circle","filled":false,"color":"black","strokeWidth":1,"size":100,"opacity":1},"encoding":{"y":{"field":"d","type":"quantitative"}}},
            {"data":{"name":"pts"},"transform":[{"filter":"datum.c=='Clinton'&&datum.lag==-3"}],"mark":{"type":"point","shape":"triangle-up","filled":false,"color":"black","strokeWidth":1,"size":110,"opacity":1},"encoding":{"y":{"field":"m","type":"quantitative"}}}
           ]},
          {"width":103,"height":164,"view":{"stroke":"#333333","fill":"white"},
           "encoding":{"x":{"field":"ev","type":"quantitative","scale":{"domain":[24.45,58.55],"nice":false,"zero":false},"axis":{"values":[25,30,35,40,45,50,55],"labelExpr":"datum.value % 10 == 0 ? datum.label : ''","title":null,"domain":false,"labelFontSize":9,"labelPadding":1,"tickSize":3,"tickOpacity":{"condition":{"test":"datum.value % 10 == 0","value":1},"value":0},"grid":true,"gridColor":"#EBEBEB","gridWidth":{"condition":{"test":"datum.value % 10 == 0","value":1.4},"value":0.7}}}},
           "layer":[
            {"data":{"name":"band"},"transform":[{"filter":"datum.c=='Clinton'&&datum.lag==-2"}],"mark":{"type":"area","color":"#999999","opacity":0.4,"interpolate":"monotone"},"encoding":{"y":{"field":"lo","type":"quantitative","scale":{"domain":[-0.0385,0.22],"nice":false,"zero":false},"axis":{"values":[0,0.025,0.05,0.075,0.1,0.125,0.15,0.175,0.2],"labels":false,"ticks":false,"domain":false,"title":null,"grid":true,"gridColor":"#EBEBEB","gridWidth":{"condition":{"test":"abs(datum.value*20-round(datum.value*20))<0.001","value":1.4},"value":0.7}}},"y2":{"field":"hi"}}},
            {"data":{"name":"fit"},"transform":[{"filter":"datum.c=='Clinton'&&datum.lag==-2"}],"mark":{"type":"line","color":"#0000FF","strokeWidth":1.1},"encoding":{"y":{"field":"d","type":"quantitative"}}},
            {"data":{"name":"fit"},"transform":[{"filter":"datum.c=='Clinton'&&datum.lag==-2"}],"mark":{"type":"line","color":"black","strokeWidth":1.1,"strokeDash":[4,3]},"encoding":{"y":{"field":"m","type":"quantitative"}}},
            {"data":{"name":"pts"},"transform":[{"filter":"datum.c=='Clinton'&&datum.lag==-2"}],"mark":{"type":"point","shape":"circle","filled":false,"color":"black","strokeWidth":1,"size":100,"opacity":1},"encoding":{"y":{"field":"d","type":"quantitative"}}},
            {"data":{"name":"pts"},"transform":[{"filter":"datum.c=='Clinton'&&datum.lag==-2"}],"mark":{"type":"point","shape":"triangle-up","filled":false,"color":"black","strokeWidth":1,"size":110,"opacity":1},"encoding":{"y":{"field":"m","type":"quantitative"}}}
           ]},
          {"width":103,"height":164,"view":{"stroke":"#333333","fill":"white"},
           "encoding":{"x":{"field":"ev","type":"quantitative","scale":{"domain":[24.45,58.55],"nice":false,"zero":false},"axis":{"values":[25,30,35,40,45,50,55],"labelExpr":"datum.value % 10 == 0 ? datum.label : ''","title":null,"domain":false,"labelFontSize":9,"labelPadding":1,"tickSize":3,"tickOpacity":{"condition":{"test":"datum.value % 10 == 0","value":1},"value":0},"grid":true,"gridColor":"#EBEBEB","gridWidth":{"condition":{"test":"datum.value % 10 == 0","value":1.4},"value":0.7}}}},
           "layer":[
            {"data":{"name":"band"},"transform":[{"filter":"datum.c=='Clinton'&&datum.lag==-1"}],"mark":{"type":"area","color":"#999999","opacity":0.4,"interpolate":"monotone"},"encoding":{"y":{"field":"lo","type":"quantitative","scale":{"domain":[-0.0385,0.22],"nice":false,"zero":false},"axis":{"values":[0,0.025,0.05,0.075,0.1,0.125,0.15,0.175,0.2],"labels":false,"ticks":false,"domain":false,"title":null,"grid":true,"gridColor":"#EBEBEB","gridWidth":{"condition":{"test":"abs(datum.value*20-round(datum.value*20))<0.001","value":1.4},"value":0.7}}},"y2":{"field":"hi"}}},
            {"data":{"name":"fit"},"transform":[{"filter":"datum.c=='Clinton'&&datum.lag==-1"}],"mark":{"type":"line","color":"#0000FF","strokeWidth":1.1},"encoding":{"y":{"field":"d","type":"quantitative"}}},
            {"data":{"name":"fit"},"transform":[{"filter":"datum.c=='Clinton'&&datum.lag==-1"}],"mark":{"type":"line","color":"black","strokeWidth":1.1,"strokeDash":[4,3]},"encoding":{"y":{"field":"m","type":"quantitative"}}},
            {"data":{"name":"pts"},"transform":[{"filter":"datum.c=='Clinton'&&datum.lag==-1"}],"mark":{"type":"point","shape":"circle","filled":false,"color":"black","strokeWidth":1,"size":100,"opacity":1},"encoding":{"y":{"field":"d","type":"quantitative"}}},
            {"data":{"name":"pts"},"transform":[{"filter":"datum.c=='Clinton'&&datum.lag==-1"}],"mark":{"type":"point","shape":"triangle-up","filled":false,"color":"black","strokeWidth":1,"size":110,"opacity":1},"encoding":{"y":{"field":"m","type":"quantitative"}}}
           ]}
         ],"spacing":6,"bounds":"flush"}
       ],"spacing":-2},
      {"width":430,"height":44,"title":{"text":"Electoral College Votes","fontSize":11,"anchor":"middle","offset":0},"data":{"values":[{"t":"⊕ Data\u2002⚠ Model"}]},"mark":{"type":"text","fontSize":9,"font":"DejaVu Sans"},"encoding":{"text":{"field":"t"}}}
     ],"spacing":5}
   ],"spacing":94}
  ],"spacing":-11},
  {"hconcat":[
   {"width":1,"height":1,"data":{"values":[{}]},"mark":{"type":"text","text":""}},
   {"hconcat":[
    {"title":{"text":"(e) 2012 Presidential Election","font":"DejaVu Serif","fontSize":21.5,"anchor":"middle","offset":21,"dx":-2},
     "vconcat":[
      {"title":{"text":"Romney","anchor":"start","frame":"group","fontSize":11,"offset":5},
       "vconcat":[
        {"hconcat":[
          {"width":104,"height":19,"view":{"fill":"#D9D9D9","stroke":"#333333"},"data":{"values":[{"s":"−4"}]},"mark":{"type":"text","fontSize":9,"color":"#1A1A1A"},"encoding":{"text":{"field":"s"}}},
          {"width":104,"height":19,"view":{"fill":"#D9D9D9","stroke":"#333333"},"data":{"values":[{"s":"−3"}]},"mark":{"type":"text","fontSize":9,"color":"#1A1A1A"},"encoding":{"text":{"field":"s"}}},
          {"width":104,"height":19,"view":{"fill":"#D9D9D9","stroke":"#333333"},"data":{"values":[{"s":"−2"}]},"mark":{"type":"text","fontSize":9,"color":"#1A1A1A"},"encoding":{"text":{"field":"s"}}},
          {"width":104,"height":19,"view":{"fill":"#D9D9D9","stroke":"#333333"},"data":{"values":[{"s":"−1"}]},"mark":{"type":"text","fontSize":9,"color":"#1A1A1A"},"encoding":{"text":{"field":"s"}}}
         ],"spacing":7,"bounds":"flush"},
        {"hconcat":[
          {"width":104,"height":164,"view":{"stroke":"#333333","fill":"white"},
           "encoding":{"x":{"field":"ev","type":"quantitative","scale":{"domain":[24.45,58.55],"nice":false,"zero":false},"axis":{"values":[25,30,35,40,45,50,55],"labelExpr":"datum.value % 10 == 0 ? datum.label : ''","title":null,"domain":false,"labelFontSize":9,"labelPadding":1,"tickSize":3,"tickOpacity":{"condition":{"test":"datum.value % 10 == 0","value":1},"value":0},"grid":true,"gridColor":"#EBEBEB","gridWidth":{"condition":{"test":"datum.value % 10 == 0","value":1.4},"value":0.7}}}},
           "layer":[
            {"data":{"name":"band"},"transform":[{"filter":"datum.c=='Romney'&&datum.lag==-4"}],"mark":{"type":"area","color":"#999999","opacity":0.4,"interpolate":"monotone"},"encoding":{"y":{"field":"lo","type":"quantitative","scale":{"domain":[-0.0455,0.386],"nice":false,"zero":false},"axis":{"values":[0,0.05,0.1,0.15,0.2,0.25,0.3,0.35],"labelExpr":"abs(datum.value*10-round(datum.value*10))<0.001 ? datum.label : ''","labelOverlap":false,"format":".1f","title":"Probability of Rally","titleFontSize":11,"labelFontSize":9,"domain":false,"tickSize":3,"tickOpacity":{"condition":{"test":"abs(datum.value*10-round(datum.value*10))<0.001","value":1},"value":0},"labelPadding":1,"titlePadding":3,"grid":true,"gridColor":"#EBEBEB","gridWidth":{"condition":{"test":"abs(datum.value*10-round(datum.value*10))<0.001","value":1.4},"value":0.7}}},"y2":{"field":"hi"}}},
            {"data":{"name":"fit"},"transform":[{"filter":"datum.c=='Romney'&&datum.lag==-4"}],"mark":{"type":"line","color":"#0000FF","strokeWidth":1.1},"encoding":{"y":{"field":"d","type":"quantitative"}}},
            {"data":{"name":"fit"},"transform":[{"filter":"datum.c=='Romney'&&datum.lag==-4"}],"mark":{"type":"line","color":"black","strokeWidth":1.1,"strokeDash":[4,3]},"encoding":{"y":{"field":"m","type":"quantitative"}}},
            {"data":{"name":"pts"},"transform":[{"filter":"datum.c=='Romney'&&datum.lag==-4"}],"mark":{"type":"point","shape":"circle","filled":false,"color":"black","strokeWidth":1,"size":100,"opacity":1},"encoding":{"y":{"field":"d","type":"quantitative"}}},
            {"data":{"name":"pts"},"transform":[{"filter":"datum.c=='Romney'&&datum.lag==-4"}],"mark":{"type":"point","shape":"triangle-up","filled":false,"color":"black","strokeWidth":1,"size":110,"opacity":1},"encoding":{"y":{"field":"m","type":"quantitative"}}}
           ]},
          {"width":104,"height":164,"view":{"stroke":"#333333","fill":"white"},
           "encoding":{"x":{"field":"ev","type":"quantitative","scale":{"domain":[24.45,58.55],"nice":false,"zero":false},"axis":{"values":[25,30,35,40,45,50,55],"labelExpr":"datum.value % 10 == 0 ? datum.label : ''","title":null,"domain":false,"labelFontSize":9,"labelPadding":1,"tickSize":3,"tickOpacity":{"condition":{"test":"datum.value % 10 == 0","value":1},"value":0},"grid":true,"gridColor":"#EBEBEB","gridWidth":{"condition":{"test":"datum.value % 10 == 0","value":1.4},"value":0.7}}}},
           "layer":[
            {"data":{"name":"band"},"transform":[{"filter":"datum.c=='Romney'&&datum.lag==-3"}],"mark":{"type":"area","color":"#999999","opacity":0.4,"interpolate":"monotone"},"encoding":{"y":{"field":"lo","type":"quantitative","scale":{"domain":[-0.0455,0.386],"nice":false,"zero":false},"axis":{"values":[0,0.05,0.1,0.15,0.2,0.25,0.3,0.35],"labels":false,"ticks":false,"domain":false,"title":null,"grid":true,"gridColor":"#EBEBEB","gridWidth":{"condition":{"test":"abs(datum.value*10-round(datum.value*10))<0.001","value":1.4},"value":0.7}}},"y2":{"field":"hi"}}},
            {"data":{"name":"fit"},"transform":[{"filter":"datum.c=='Romney'&&datum.lag==-3"}],"mark":{"type":"line","color":"#0000FF","strokeWidth":1.1},"encoding":{"y":{"field":"d","type":"quantitative"}}},
            {"data":{"name":"fit"},"transform":[{"filter":"datum.c=='Romney'&&datum.lag==-3"}],"mark":{"type":"line","color":"black","strokeWidth":1.1,"strokeDash":[4,3]},"encoding":{"y":{"field":"m","type":"quantitative"}}},
            {"data":{"name":"pts"},"transform":[{"filter":"datum.c=='Romney'&&datum.lag==-3"}],"mark":{"type":"point","shape":"circle","filled":false,"color":"black","strokeWidth":1,"size":100,"opacity":1},"encoding":{"y":{"field":"d","type":"quantitative"}}},
            {"data":{"name":"pts"},"transform":[{"filter":"datum.c=='Romney'&&datum.lag==-3"}],"mark":{"type":"point","shape":"triangle-up","filled":false,"color":"black","strokeWidth":1,"size":110,"opacity":1},"encoding":{"y":{"field":"m","type":"quantitative"}}}
           ]},
          {"width":104,"height":164,"view":{"stroke":"#333333","fill":"white"},
           "encoding":{"x":{"field":"ev","type":"quantitative","scale":{"domain":[24.45,58.55],"nice":false,"zero":false},"axis":{"values":[25,30,35,40,45,50,55],"labelExpr":"datum.value % 10 == 0 ? datum.label : ''","title":null,"domain":false,"labelFontSize":9,"labelPadding":1,"tickSize":3,"tickOpacity":{"condition":{"test":"datum.value % 10 == 0","value":1},"value":0},"grid":true,"gridColor":"#EBEBEB","gridWidth":{"condition":{"test":"datum.value % 10 == 0","value":1.4},"value":0.7}}}},
           "layer":[
            {"data":{"name":"band"},"transform":[{"filter":"datum.c=='Romney'&&datum.lag==-2"}],"mark":{"type":"area","color":"#999999","opacity":0.4,"interpolate":"monotone"},"encoding":{"y":{"field":"lo","type":"quantitative","scale":{"domain":[-0.0455,0.386],"nice":false,"zero":false},"axis":{"values":[0,0.05,0.1,0.15,0.2,0.25,0.3,0.35],"labels":false,"ticks":false,"domain":false,"title":null,"grid":true,"gridColor":"#EBEBEB","gridWidth":{"condition":{"test":"abs(datum.value*10-round(datum.value*10))<0.001","value":1.4},"value":0.7}}},"y2":{"field":"hi"}}},
            {"data":{"name":"fit"},"transform":[{"filter":"datum.c=='Romney'&&datum.lag==-2"}],"mark":{"type":"line","color":"#0000FF","strokeWidth":1.1},"encoding":{"y":{"field":"d","type":"quantitative"}}},
            {"data":{"name":"fit"},"transform":[{"filter":"datum.c=='Romney'&&datum.lag==-2"}],"mark":{"type":"line","color":"black","strokeWidth":1.1,"strokeDash":[4,3]},"encoding":{"y":{"field":"m","type":"quantitative"}}},
            {"data":{"name":"pts"},"transform":[{"filter":"datum.c=='Romney'&&datum.lag==-2"}],"mark":{"type":"point","shape":"circle","filled":false,"color":"black","strokeWidth":1,"size":100,"opacity":1},"encoding":{"y":{"field":"d","type":"quantitative"}}},
            {"data":{"name":"pts"},"transform":[{"filter":"datum.c=='Romney'&&datum.lag==-2"}],"mark":{"type":"point","shape":"triangle-up","filled":false,"color":"black","strokeWidth":1,"size":110,"opacity":1},"encoding":{"y":{"field":"m","type":"quantitative"}}}
           ]},
          {"width":104,"height":164,"view":{"stroke":"#333333","fill":"white"},
           "encoding":{"x":{"field":"ev","type":"quantitative","scale":{"domain":[24.45,58.55],"nice":false,"zero":false},"axis":{"values":[25,30,35,40,45,50,55],"labelExpr":"datum.value % 10 == 0 ? datum.label : ''","title":null,"domain":false,"labelFontSize":9,"labelPadding":1,"tickSize":3,"tickOpacity":{"condition":{"test":"datum.value % 10 == 0","value":1},"value":0},"grid":true,"gridColor":"#EBEBEB","gridWidth":{"condition":{"test":"datum.value % 10 == 0","value":1.4},"value":0.7}}}},
           "layer":[
            {"data":{"name":"band"},"transform":[{"filter":"datum.c=='Romney'&&datum.lag==-1"}],"mark":{"type":"area","color":"#999999","opacity":0.4,"interpolate":"monotone"},"encoding":{"y":{"field":"lo","type":"quantitative","scale":{"domain":[-0.0455,0.386],"nice":false,"zero":false},"axis":{"values":[0,0.05,0.1,0.15,0.2,0.25,0.3,0.35],"labels":false,"ticks":false,"domain":false,"title":null,"grid":true,"gridColor":"#EBEBEB","gridWidth":{"condition":{"test":"abs(datum.value*10-round(datum.value*10))<0.001","value":1.4},"value":0.7}}},"y2":{"field":"hi"}}},
            {"data":{"name":"fit"},"transform":[{"filter":"datum.c=='Romney'&&datum.lag==-1"}],"mark":{"type":"line","color":"#0000FF","strokeWidth":1.1},"encoding":{"y":{"field":"d","type":"quantitative"}}},
            {"data":{"name":"fit"},"transform":[{"filter":"datum.c=='Romney'&&datum.lag==-1"}],"mark":{"type":"line","color":"black","strokeWidth":1.1,"strokeDash":[4,3]},"encoding":{"y":{"field":"m","type":"quantitative"}}},
            {"data":{"name":"pts"},"transform":[{"filter":"datum.c=='Romney'&&datum.lag==-1"}],"mark":{"type":"point","shape":"circle","filled":false,"color":"black","strokeWidth":1,"size":100,"opacity":1},"encoding":{"y":{"field":"d","type":"quantitative"}}},
            {"data":{"name":"pts"},"transform":[{"filter":"datum.c=='Romney'&&datum.lag==-1"}],"mark":{"type":"point","shape":"triangle-up","filled":false,"color":"black","strokeWidth":1,"size":110,"opacity":1},"encoding":{"y":{"field":"m","type":"quantitative"}}}
           ]}
         ],"spacing":7,"bounds":"flush"}
       ],"spacing":-2},
      {"width":437,"height":44,"title":{"text":"Electoral College Votes","fontSize":11,"anchor":"middle","offset":0},"data":{"values":[{"t":"⊕ Data\u2002⚠ Model"}]},"mark":{"type":"text","fontSize":9,"font":"DejaVu Sans"},"encoding":{"text":{"field":"t"}}}
     ],"spacing":5},
    {"title":{"text":"(f) 2012 Presidential Election","font":"DejaVu Serif","fontSize":21.5,"anchor":"middle","offset":21,"dx":3},
     "vconcat":[
      {"title":{"text":"Obama","anchor":"start","frame":"group","fontSize":11,"offset":5},
       "vconcat":[
        {"hconcat":[
          {"width":103,"height":19,"view":{"fill":"#D9D9D9","stroke":"#333333"},"data":{"values":[{"s":"−4"}]},"mark":{"type":"text","fontSize":9,"color":"#1A1A1A"},"encoding":{"text":{"field":"s"}}},
          {"width":103,"height":19,"view":{"fill":"#D9D9D9","stroke":"#333333"},"data":{"values":[{"s":"−3"}]},"mark":{"type":"text","fontSize":9,"color":"#1A1A1A"},"encoding":{"text":{"field":"s"}}},
          {"width":103,"height":19,"view":{"fill":"#D9D9D9","stroke":"#333333"},"data":{"values":[{"s":"−2"}]},"mark":{"type":"text","fontSize":9,"color":"#1A1A1A"},"encoding":{"text":{"field":"s"}}},
          {"width":103,"height":19,"view":{"fill":"#D9D9D9","stroke":"#333333"},"data":{"values":[{"s":"−1"}]},"mark":{"type":"text","fontSize":9,"color":"#1A1A1A"},"encoding":{"text":{"field":"s"}}}
         ],"spacing":6,"bounds":"flush"},
        {"hconcat":[
          {"width":103,"height":164,"view":{"stroke":"#333333","fill":"white"},
           "encoding":{"x":{"field":"ev","type":"quantitative","scale":{"domain":[24.45,58.55],"nice":false,"zero":false},"axis":{"values":[25,30,35,40,45,50,55],"labelExpr":"datum.value % 10 == 0 ? datum.label : ''","title":null,"domain":false,"labelFontSize":9,"labelPadding":1,"tickSize":3,"tickOpacity":{"condition":{"test":"datum.value % 10 == 0","value":1},"value":0},"grid":true,"gridColor":"#EBEBEB","gridWidth":{"condition":{"test":"datum.value % 10 == 0","value":1.4},"value":0.7}}}},
           "layer":[
            {"data":{"name":"band"},"transform":[{"filter":"datum.c=='Obama'&&datum.lag==-4"}],"mark":{"type":"area","color":"#999999","opacity":0.4,"interpolate":"monotone"},"encoding":{"y":{"field":"lo","type":"quantitative","scale":{"domain":[-0.025,0.163],"nice":false,"zero":false},"axis":{"values":[0,0.025,0.05,0.075,0.1,0.125,0.15],"labelExpr":"abs(datum.value*20-round(datum.value*20))<0.001 ? datum.label : ''","labelOverlap":false,"format":".2f","title":"Probability of Rally","titleFontSize":11,"labelFontSize":9,"domain":false,"tickSize":3,"tickOpacity":{"condition":{"test":"abs(datum.value*20-round(datum.value*20))<0.001","value":1},"value":0},"labelPadding":1,"titlePadding":3,"grid":true,"gridColor":"#EBEBEB","gridWidth":{"condition":{"test":"abs(datum.value*20-round(datum.value*20))<0.001","value":1.4},"value":0.7}}},"y2":{"field":"hi"}}},
            {"data":{"name":"fit"},"transform":[{"filter":"datum.c=='Obama'&&datum.lag==-4"}],"mark":{"type":"line","color":"#0000FF","strokeWidth":1.1},"encoding":{"y":{"field":"d","type":"quantitative"}}},
            {"data":{"name":"fit"},"transform":[{"filter":"datum.c=='Obama'&&datum.lag==-4"}],"mark":{"type":"line","color":"black","strokeWidth":1.1,"strokeDash":[4,3]},"encoding":{"y":{"field":"m","type":"quantitative"}}},
            {"data":{"name":"pts"},"transform":[{"filter":"datum.c=='Obama'&&datum.lag==-4"}],"mark":{"type":"point","shape":"circle","filled":false,"color":"black","strokeWidth":1,"size":100,"opacity":1},"encoding":{"y":{"field":"d","type":"quantitative"}}},
            {"data":{"name":"pts"},"transform":[{"filter":"datum.c=='Obama'&&datum.lag==-4"}],"mark":{"type":"point","shape":"triangle-up","filled":false,"color":"black","strokeWidth":1,"size":110,"opacity":1},"encoding":{"y":{"field":"m","type":"quantitative"}}}
           ]},
          {"width":103,"height":164,"view":{"stroke":"#333333","fill":"white"},
           "encoding":{"x":{"field":"ev","type":"quantitative","scale":{"domain":[24.45,58.55],"nice":false,"zero":false},"axis":{"values":[25,30,35,40,45,50,55],"labelExpr":"datum.value % 10 == 0 ? datum.label : ''","title":null,"domain":false,"labelFontSize":9,"labelPadding":1,"tickSize":3,"tickOpacity":{"condition":{"test":"datum.value % 10 == 0","value":1},"value":0},"grid":true,"gridColor":"#EBEBEB","gridWidth":{"condition":{"test":"datum.value % 10 == 0","value":1.4},"value":0.7}}}},
           "layer":[
            {"data":{"name":"band"},"transform":[{"filter":"datum.c=='Obama'&&datum.lag==-3"}],"mark":{"type":"area","color":"#999999","opacity":0.4,"interpolate":"monotone"},"encoding":{"y":{"field":"lo","type":"quantitative","scale":{"domain":[-0.025,0.163],"nice":false,"zero":false},"axis":{"values":[0,0.025,0.05,0.075,0.1,0.125,0.15],"labels":false,"ticks":false,"domain":false,"title":null,"grid":true,"gridColor":"#EBEBEB","gridWidth":{"condition":{"test":"abs(datum.value*20-round(datum.value*20))<0.001","value":1.4},"value":0.7}}},"y2":{"field":"hi"}}},
            {"data":{"name":"fit"},"transform":[{"filter":"datum.c=='Obama'&&datum.lag==-3"}],"mark":{"type":"line","color":"#0000FF","strokeWidth":1.1},"encoding":{"y":{"field":"d","type":"quantitative"}}},
            {"data":{"name":"fit"},"transform":[{"filter":"datum.c=='Obama'&&datum.lag==-3"}],"mark":{"type":"line","color":"black","strokeWidth":1.1,"strokeDash":[4,3]},"encoding":{"y":{"field":"m","type":"quantitative"}}},
            {"data":{"name":"pts"},"transform":[{"filter":"datum.c=='Obama'&&datum.lag==-3"}],"mark":{"type":"point","shape":"circle","filled":false,"color":"black","strokeWidth":1,"size":100,"opacity":1},"encoding":{"y":{"field":"d","type":"quantitative"}}},
            {"data":{"name":"pts"},"transform":[{"filter":"datum.c=='Obama'&&datum.lag==-3"}],"mark":{"type":"point","shape":"triangle-up","filled":false,"color":"black","strokeWidth":1,"size":110,"opacity":1},"encoding":{"y":{"field":"m","type":"quantitative"}}}
           ]},
          {"width":103,"height":164,"view":{"stroke":"#333333","fill":"white"},
           "encoding":{"x":{"field":"ev","type":"quantitative","scale":{"domain":[24.45,58.55],"nice":false,"zero":false},"axis":{"values":[25,30,35,40,45,50,55],"labelExpr":"datum.value % 10 == 0 ? datum.label : ''","title":null,"domain":false,"labelFontSize":9,"labelPadding":1,"tickSize":3,"tickOpacity":{"condition":{"test":"datum.value % 10 == 0","value":1},"value":0},"grid":true,"gridColor":"#EBEBEB","gridWidth":{"condition":{"test":"datum.value % 10 == 0","value":1.4},"value":0.7}}}},
           "layer":[
            {"data":{"name":"band"},"transform":[{"filter":"datum.c=='Obama'&&datum.lag==-2"}],"mark":{"type":"area","color":"#999999","opacity":0.4,"interpolate":"monotone"},"encoding":{"y":{"field":"lo","type":"quantitative","scale":{"domain":[-0.025,0.163],"nice":false,"zero":false},"axis":{"values":[0,0.025,0.05,0.075,0.1,0.125,0.15],"labels":false,"ticks":false,"domain":false,"title":null,"grid":true,"gridColor":"#EBEBEB","gridWidth":{"condition":{"test":"abs(datum.value*20-round(datum.value*20))<0.001","value":1.4},"value":0.7}}},"y2":{"field":"hi"}}},
            {"data":{"name":"fit"},"transform":[{"filter":"datum.c=='Obama'&&datum.lag==-2"}],"mark":{"type":"line","color":"#0000FF","strokeWidth":1.1},"encoding":{"y":{"field":"d","type":"quantitative"}}},
            {"data":{"name":"fit"},"transform":[{"filter":"datum.c=='Obama'&&datum.lag==-2"}],"mark":{"type":"line","color":"black","strokeWidth":1.1,"strokeDash":[4,3]},"encoding":{"y":{"field":"m","type":"quantitative"}}},
            {"data":{"name":"pts"},"transform":[{"filter":"datum.c=='Obama'&&datum.lag==-2"}],"mark":{"type":"point","shape":"circle","filled":false,"color":"black","strokeWidth":1,"size":100,"opacity":1},"encoding":{"y":{"field":"d","type":"quantitative"}}},
            {"data":{"name":"pts"},"transform":[{"filter":"datum.c=='Obama'&&datum.lag==-2"}],"mark":{"type":"point","shape":"triangle-up","filled":false,"color":"black","strokeWidth":1,"size":110,"opacity":1},"encoding":{"y":{"field":"m","type":"quantitative"}}}
           ]},
          {"width":103,"height":164,"view":{"stroke":"#333333","fill":"white"},
           "encoding":{"x":{"field":"ev","type":"quantitative","scale":{"domain":[24.45,58.55],"nice":false,"zero":false},"axis":{"values":[25,30,35,40,45,50,55],"labelExpr":"datum.value % 10 == 0 ? datum.label : ''","title":null,"domain":false,"labelFontSize":9,"labelPadding":1,"tickSize":3,"tickOpacity":{"condition":{"test":"datum.value % 10 == 0","value":1},"value":0},"grid":true,"gridColor":"#EBEBEB","gridWidth":{"condition":{"test":"datum.value % 10 == 0","value":1.4},"value":0.7}}}},
           "layer":[
            {"data":{"name":"band"},"transform":[{"filter":"datum.c=='Obama'&&datum.lag==-1"}],"mark":{"type":"area","color":"#999999","opacity":0.4,"interpolate":"monotone"},"encoding":{"y":{"field":"lo","type":"quantitative","scale":{"domain":[-0.025,0.163],"nice":false,"zero":false},"axis":{"values":[0,0.025,0.05,0.075,0.1,0.125,0.15],"labels":false,"ticks":false,"domain":false,"title":null,"grid":true,"gridColor":"#EBEBEB","gridWidth":{"condition":{"test":"abs(datum.value*20-round(datum.value*20))<0.001","value":1.4},"value":0.7}}},"y2":{"field":"hi"}}},
            {"data":{"name":"fit"},"transform":[{"filter":"datum.c=='Obama'&&datum.lag==-1"}],"mark":{"type":"line","color":"#0000FF","strokeWidth":1.1},"encoding":{"y":{"field":"d","type":"quantitative"}}},
            {"data":{"name":"fit"},"transform":[{"filter":"datum.c=='Obama'&&datum.lag==-1"}],"mark":{"type":"line","color":"black","strokeWidth":1.1,"strokeDash":[4,3]},"encoding":{"y":{"field":"m","type":"quantitative"}}},
            {"data":{"name":"pts"},"transform":[{"filter":"datum.c=='Obama'&&datum.lag==-1"}],"mark":{"type":"point","shape":"circle","filled":false,"color":"black","strokeWidth":1,"size":100,"opacity":1},"encoding":{"y":{"field":"d","type":"quantitative"}}},
            {"data":{"name":"pts"},"transform":[{"filter":"datum.c=='Obama'&&datum.lag==-1"}],"mark":{"type":"point","shape":"triangle-up","filled":false,"color":"black","strokeWidth":1,"size":110,"opacity":1},"encoding":{"y":{"field":"m","type":"quantitative"}}}
           ]}
         ],"spacing":6,"bounds":"flush"}
       ],"spacing":-2},
      {"width":430,"height":44,"title":{"text":"Electoral College Votes","fontSize":11,"anchor":"middle","offset":0},"data":{"values":[{"t":"⊕ Data\u2002⚠ Model"}]},"mark":{"type":"text","fontSize":9,"font":"DejaVu Sans"},"encoding":{"text":{"field":"t"}}}
     ],"spacing":5}
   ],"spacing":94}
  ],"spacing":-11}
 ],"spacing":29}
],
"spacing":41
}
